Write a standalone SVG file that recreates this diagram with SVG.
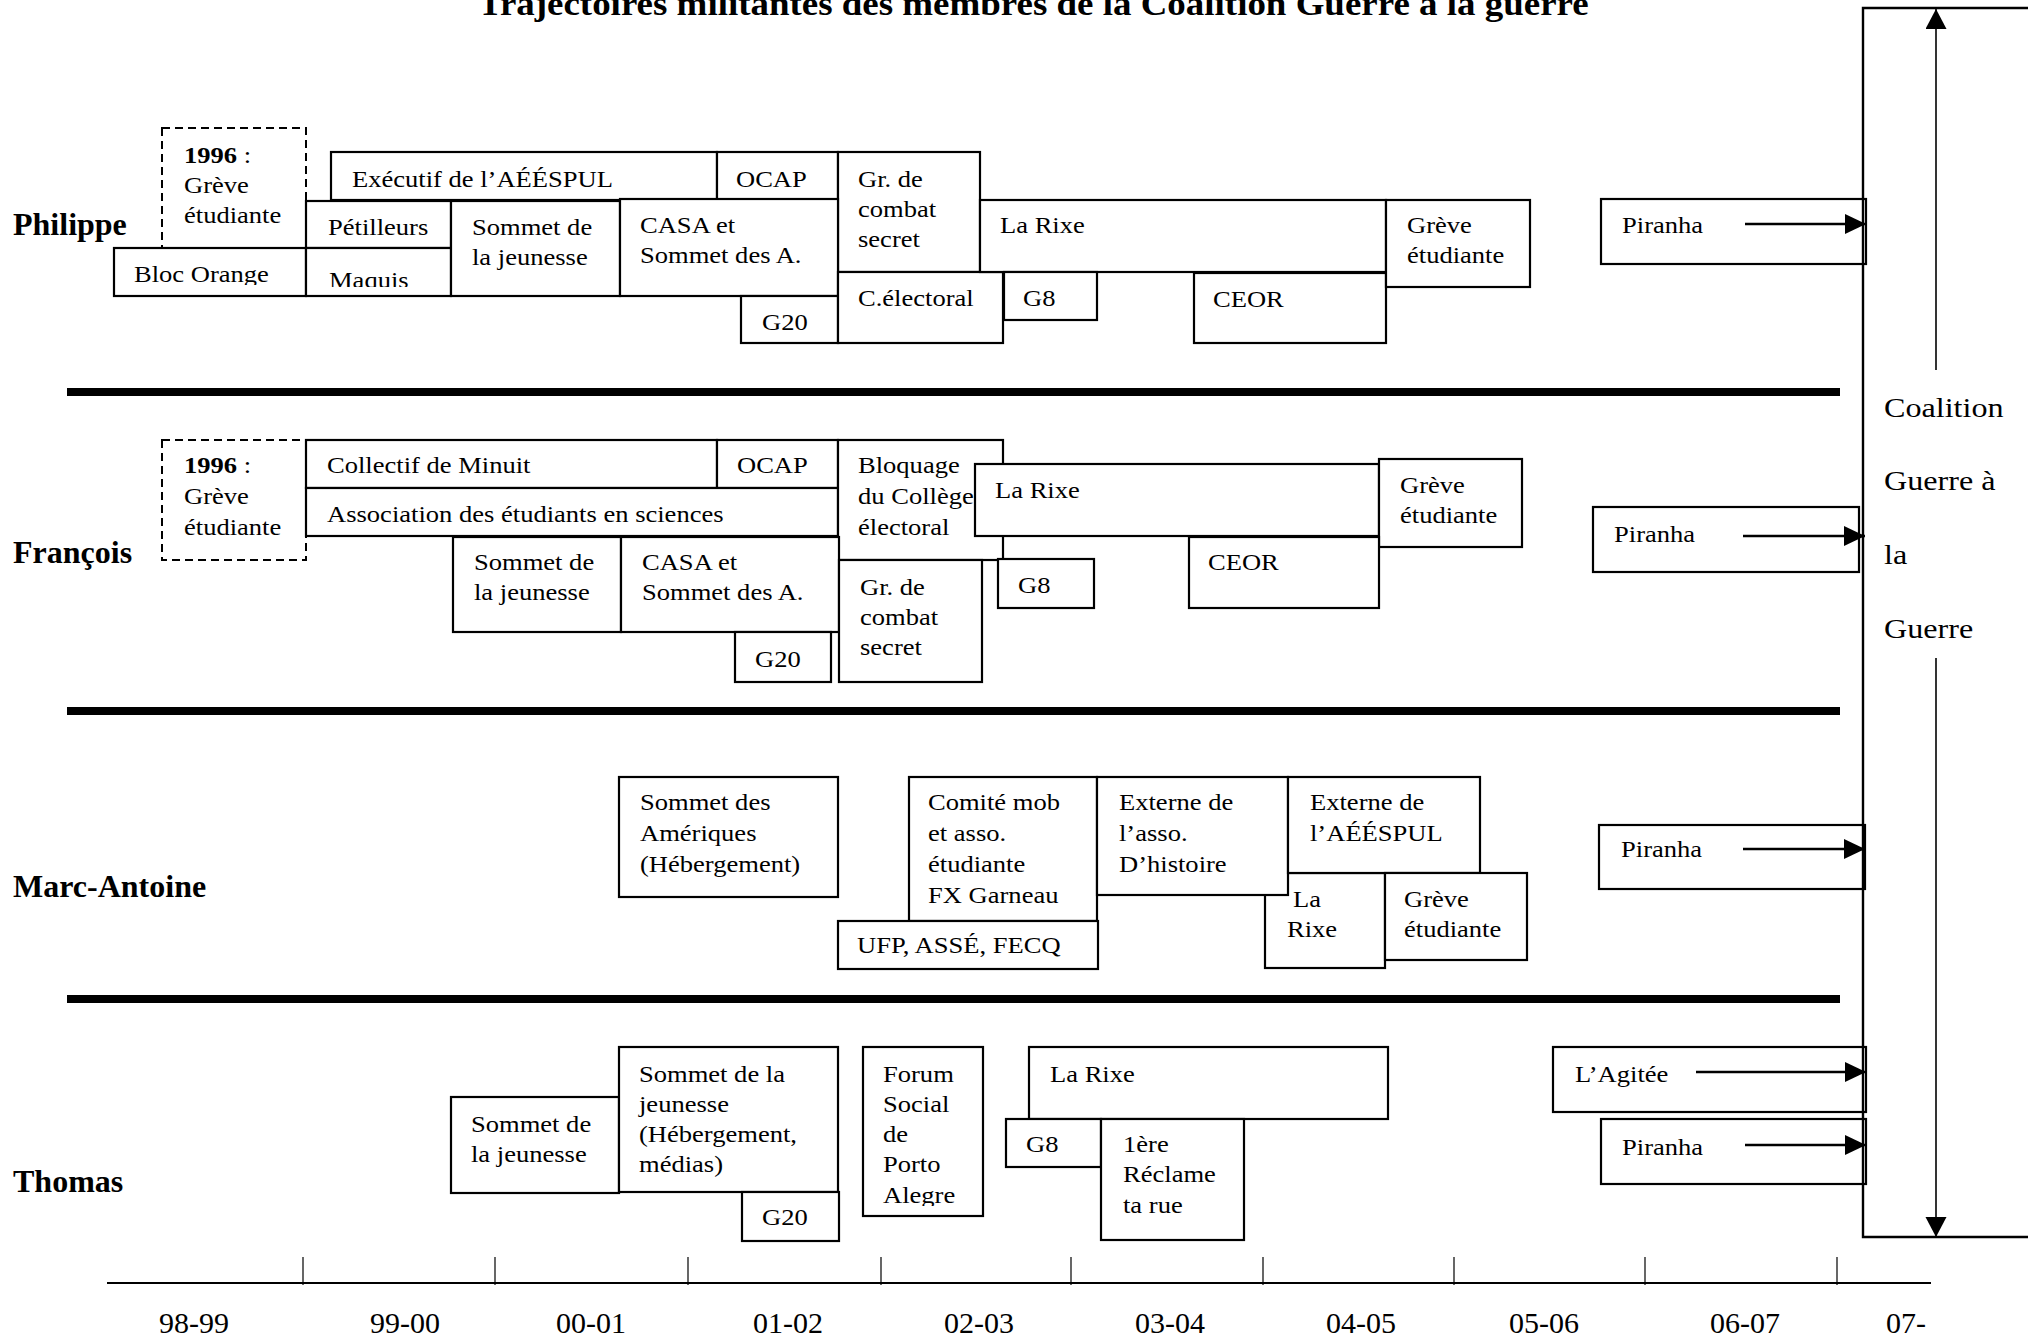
<svg xmlns="http://www.w3.org/2000/svg" width="2028" height="1338" viewBox="0 0 2028 1338">
<style>
.b{fill:#fff;stroke:#000;stroke-width:2.2}
.d{fill:#fff;stroke:#000;stroke-width:2;stroke-dasharray:8 5}
.t{font-family:"Liberation Serif","Times New Roman",serif;font-size:23.5px;fill:#000}
.n{font-family:"Liberation Serif","Times New Roman",serif;font-size:32px;font-weight:bold;fill:#000}
.yr{font-family:"Liberation Serif","Times New Roman",serif;font-size:30px;fill:#000;text-anchor:middle}
.sep{stroke:#000;stroke-width:8}
.ar{stroke:#000;stroke-width:2.5;fill:none}
.va{stroke:#000;stroke-width:1.6;fill:none}
</style>
<defs>
<marker id="ah" markerUnits="userSpaceOnUse" markerWidth="22" markerHeight="20" refX="21" refY="10" orient="auto"><path d="M0,0 L21,10 L0,20 Z" fill="#000"/></marker>
<marker id="av" markerUnits="userSpaceOnUse" markerWidth="21" markerHeight="22" refX="20" refY="10.5" orient="auto"><path d="M0,0 L20,10.5 L0,21 Z" fill="#000"/></marker>
<clipPath id="cBO"><rect x="100" y="240" width="210" height="45"/></clipPath>
<clipPath id="cMQ"><rect x="306" y="240" width="145" height="47"/></clipPath>
<clipPath id="cAL"><rect x="860" y="1040" width="125" height="166"/></clipPath>
</defs>
<rect width="2028" height="1338" fill="#fff"/>

<text class="n" transform="translate(478,15) scale(1.12,1)" style="font-size:33px">Trajectoires militantes des membres de la Coalition Guerre à la guerre</text>

<g id="names">
<text class="n" x="13" y="235">Philippe</text>
<text class="n" x="13" y="563">François</text>
<text class="n" x="13" y="897">Marc-Antoine</text>
<text class="n" x="13" y="1192">Thomas</text>
</g>

<g id="separators">
<line class="sep" x1="67" y1="392" x2="1840" y2="392"/>
<line class="sep" x1="67" y1="711" x2="1840" y2="711"/>
<line class="sep" x1="67" y1="999" x2="1840" y2="999"/>
</g>

<!-- Philippe -->
<g id="p-1996"><rect class="d" x="162" y="128" width="144" height="120"/><text class="t" transform="translate(184,163) scale(1.13,1)"><tspan x="0" y="0" font-weight="bold">1996</tspan><tspan> :</tspan><tspan x="0" y="30">Grève</tspan><tspan x="0" y="60">étudiante</tspan></text></g>
<g id="p-executif"><rect class="b" x="331" y="152" width="386" height="48"/><text class="t" transform="translate(352,187) scale(1.13,1)">Exécutif de l’AÉÉSPUL</text></g>
<g id="p-ocap"><rect class="b" x="717" y="152" width="121" height="48"/><text class="t" transform="translate(736,187) scale(1.13,1)">OCAP</text></g>
<g id="p-grcombat"><rect class="b" x="838" y="152" width="142" height="120"/><text class="t" transform="translate(858,187) scale(1.13,1)"><tspan x="0" y="0">Gr. de</tspan><tspan x="0" y="30">combat</tspan><tspan x="0" y="60">secret</tspan></text></g>
<g id="p-petilleurs"><rect class="b" x="306" y="201" width="145" height="47"/><text class="t" transform="translate(328,235) scale(1.13,1)">Pétilleurs</text></g>
<g id="p-blocorange"><rect class="b" x="114" y="248" width="192" height="48"/><g clip-path="url(#cBO)"><text class="t" transform="translate(134,282) scale(1.13,1)">Bloc Orange</text></g></g>
<g id="p-maquis"><rect class="b" x="306" y="248" width="145" height="48"/><g clip-path="url(#cMQ)"><text class="t" transform="translate(329,288) scale(1.13,1)">Maquis</text></g></g>
<g id="p-sommetjeunesse"><rect class="b" x="451" y="201" width="169" height="95"/><text class="t" transform="translate(472,235) scale(1.13,1)"><tspan x="0" y="0">Sommet de</tspan><tspan x="0" y="30">la jeunesse</tspan></text></g>
<g id="p-casa"><rect class="b" x="620" y="199" width="218" height="97"/><text class="t" transform="translate(640,233) scale(1.13,1)"><tspan x="0" y="0">CASA et</tspan><tspan x="0" y="30">Sommet des A.</tspan></text></g>
<g id="p-g20"><rect class="b" x="741" y="296" width="97" height="47"/><text class="t" transform="translate(762,330) scale(1.13,1)">G20</text></g>
<g id="p-celectoral"><rect class="b" x="838" y="272" width="165" height="71"/><text class="t" transform="translate(858,306) scale(1.13,1)">C.électoral</text></g>
<g id="p-larixe"><rect class="b" x="980" y="200" width="406" height="72"/><text class="t" transform="translate(1000,233) scale(1.13,1)">La Rixe</text></g>
<g id="p-g8"><rect class="b" x="1004" y="272" width="93" height="48"/><text class="t" transform="translate(1023,306) scale(1.13,1)">G8</text></g>
<g id="p-ceor"><rect class="b" x="1194" y="273" width="192" height="70"/><text class="t" transform="translate(1213,307) scale(1.13,1)">CEOR</text></g>
<g id="p-greve"><rect class="b" x="1386" y="200" width="144" height="87"/><text class="t" transform="translate(1407,233) scale(1.13,1)"><tspan x="0" y="0">Grève</tspan><tspan x="0" y="30">étudiante</tspan></text></g>
<g id="p-piranha"><rect class="b" x="1601" y="199" width="265" height="65"/><text class="t" transform="translate(1622,233) scale(1.13,1)">Piranha</text></g>

<!-- François -->
<g id="f-1996"><rect class="d" x="162" y="440" width="144" height="120"/><text class="t" transform="translate(184,473) scale(1.13,1)"><tspan x="0" y="0" font-weight="bold">1996</tspan><tspan> :</tspan><tspan x="0" y="31">Grève</tspan><tspan x="0" y="62">étudiante</tspan></text></g>
<g id="f-collectif"><rect class="b" x="306" y="440" width="411" height="48"/><text class="t" transform="translate(327,473) scale(1.13,1)">Collectif de Minuit</text></g>
<g id="f-ocap"><rect class="b" x="717" y="440" width="121" height="48"/><text class="t" transform="translate(737,473) scale(1.13,1)">OCAP</text></g>
<g id="f-association"><rect class="b" x="306" y="488" width="532" height="48"/><text class="t" transform="translate(327,522) scale(1.13,1)">Association des étudiants en sciences</text></g>
<g id="f-bloquage"><rect class="b" x="838" y="440" width="165" height="120"/><text class="t" transform="translate(858,473) scale(1.13,1)"><tspan x="0" y="0">Bloquage</tspan><tspan x="0" y="31">du Collège</tspan><tspan x="0" y="62">électoral</tspan></text></g>
<g id="f-larixe"><rect class="b" x="975" y="464" width="404" height="72"/><text class="t" transform="translate(995,498) scale(1.13,1)">La Rixe</text></g>
<g id="f-greve"><rect class="b" x="1379" y="459" width="143" height="88"/><text class="t" transform="translate(1400,493) scale(1.13,1)"><tspan x="0" y="0">Grève</tspan><tspan x="0" y="30">étudiante</tspan></text></g>
<g id="f-ceor"><rect class="b" x="1189" y="537" width="190" height="71"/><text class="t" transform="translate(1208,570) scale(1.13,1)">CEOR</text></g>
<g id="f-g8"><rect class="b" x="998" y="559" width="96" height="49"/><text class="t" transform="translate(1018,593) scale(1.13,1)">G8</text></g>
<g id="f-sommetjeunesse"><rect class="b" x="453" y="537" width="168" height="95"/><text class="t" transform="translate(474,570) scale(1.13,1)"><tspan x="0" y="0">Sommet de</tspan><tspan x="0" y="30">la jeunesse</tspan></text></g>
<g id="f-casa"><rect class="b" x="621" y="537" width="218" height="95"/><text class="t" transform="translate(642,570) scale(1.13,1)"><tspan x="0" y="0">CASA et</tspan><tspan x="0" y="30">Sommet des A.</tspan></text></g>
<g id="f-g20"><rect class="b" x="735" y="632" width="96" height="50"/><text class="t" transform="translate(755,667) scale(1.13,1)">G20</text></g>
<g id="f-grcombat"><rect class="b" x="839" y="560" width="143" height="122"/><text class="t" transform="translate(860,595) scale(1.13,1)"><tspan x="0" y="0">Gr. de</tspan><tspan x="0" y="30">combat</tspan><tspan x="0" y="60">secret</tspan></text></g>
<g id="f-piranha"><rect class="b" x="1593" y="507" width="266" height="65"/><text class="t" transform="translate(1614,542) scale(1.13,1)">Piranha</text></g>

<!-- Marc-Antoine -->
<g id="m-sommetameriques"><rect class="b" x="619" y="777" width="219" height="120"/><text class="t" transform="translate(640,810) scale(1.13,1)"><tspan x="0" y="0">Sommet des</tspan><tspan x="0" y="31">Amériques</tspan><tspan x="0" y="62">(Hébergement)</tspan></text></g>
<g id="m-comitemob"><rect class="b" x="909" y="777" width="188" height="144"/><text class="t" transform="translate(928,810) scale(1.13,1)"><tspan x="0" y="0">Comité mob</tspan><tspan x="0" y="31">et asso.</tspan><tspan x="0" y="62">étudiante</tspan><tspan x="0" y="93">FX Garneau</tspan></text></g>
<g id="m-ufp"><rect class="b" x="838" y="921" width="260" height="48"/><text class="t" transform="translate(857,953) scale(1.13,1)">UFP, ASSÉ, FECQ</text></g>
<g id="m-larixe"><rect class="b" x="1265" y="873" width="120" height="95"/><text class="t" transform="translate(1293,907) scale(1.13,1)">La</text><text class="t" transform="translate(1287,937) scale(1.13,1)">Rixe</text></g>
<g id="m-externehist"><rect class="b" x="1097" y="777" width="191" height="118"/><text class="t" transform="translate(1119,810) scale(1.13,1)"><tspan x="0" y="0">Externe de</tspan><tspan x="0" y="31">l’asso.</tspan><tspan x="0" y="62">D’histoire</tspan></text></g>
<g id="m-externeaeespul"><rect class="b" x="1288" y="777" width="192" height="96"/><text class="t" transform="translate(1310,810) scale(1.13,1)"><tspan x="0" y="0">Externe de</tspan><tspan x="0" y="31">l’AÉÉSPUL</tspan></text></g>
<g id="m-greve"><rect class="b" x="1385" y="873" width="142" height="87"/><text class="t" transform="translate(1404,907) scale(1.13,1)"><tspan x="0" y="0">Grève</tspan><tspan x="0" y="30">étudiante</tspan></text></g>
<g id="m-piranha"><rect class="b" x="1599" y="825" width="266" height="64"/><text class="t" transform="translate(1621,857) scale(1.13,1)">Piranha</text></g>

<!-- Thomas -->
<g id="t-sommetjeunesse"><rect class="b" x="451" y="1097" width="168" height="96"/><text class="t" transform="translate(471,1132) scale(1.13,1)"><tspan x="0" y="0">Sommet de</tspan><tspan x="0" y="30">la jeunesse</tspan></text></g>
<g id="t-sommetheb"><rect class="b" x="619" y="1047" width="219" height="145"/><text class="t" transform="translate(639,1082) scale(1.13,1)"><tspan x="0" y="0">Sommet de la</tspan><tspan x="0" y="30">jeunesse</tspan><tspan x="0" y="60">(Hébergement,</tspan><tspan x="0" y="90">médias)</tspan></text></g>
<g id="t-g20"><rect class="b" x="742" y="1192" width="97" height="49"/><text class="t" transform="translate(762,1225) scale(1.13,1)">G20</text></g>
<g id="t-forum"><rect class="b" x="863" y="1047" width="120" height="169"/><g clip-path="url(#cAL)"><text class="t" transform="translate(883,1082) scale(1.13,1)"><tspan x="0" y="0">Forum</tspan><tspan x="0" y="30">Social</tspan><tspan x="0" y="60">de</tspan><tspan x="0" y="90">Porto</tspan><tspan x="0" y="121">Alegre</tspan></text></g></g>
<g id="t-larixe"><rect class="b" x="1029" y="1047" width="359" height="72"/><text class="t" transform="translate(1050,1082) scale(1.13,1)">La Rixe</text></g>
<g id="t-g8"><rect class="b" x="1006" y="1119" width="95" height="48"/><text class="t" transform="translate(1026,1152) scale(1.13,1)">G8</text></g>
<g id="t-reclame"><rect class="b" x="1101" y="1119" width="143" height="121"/><text class="t" transform="translate(1123,1152) scale(1.13,1)"><tspan x="0" y="0">1ère</tspan><tspan x="0" y="30">Réclame</tspan><tspan x="0" y="61">ta rue</tspan></text></g>
<g id="t-agitee"><rect class="b" x="1553" y="1047" width="313" height="65"/><text class="t" transform="translate(1575,1082) scale(1.13,1)">L’Agitée</text></g>
<g id="t-piranha"><rect class="b" x="1601" y="1119" width="265" height="65"/><text class="t" transform="translate(1622,1155) scale(1.13,1)">Piranha</text></g>

<!-- Coalition -->
<g id="coalition">
<path d="M2030,8 H1863 V1237 H2030" fill="none" stroke="#000" stroke-width="2.4"/>
<text class="t" transform="translate(1884,417) scale(1.19,1)" style="font-size:27px"><tspan x="0" y="0">Coalition</tspan><tspan x="0" y="73">Guerre à</tspan><tspan x="0" y="147">la</tspan><tspan x="0" y="221">Guerre</tspan></text>
</g>

<g id="connectors">
<line class="ar" x1="1745" y1="224" x2="1866" y2="224" marker-end="url(#ah)"/>
<line class="ar" x1="1743" y1="536" x2="1865" y2="536" marker-end="url(#ah)"/>
<line class="ar" x1="1743" y1="849" x2="1865" y2="849" marker-end="url(#ah)"/>
<line class="ar" x1="1696" y1="1072" x2="1866" y2="1072" marker-end="url(#ah)"/>
<line class="ar" x1="1745" y1="1145" x2="1866" y2="1145" marker-end="url(#ah)"/>
<line class="va" x1="1936" y1="370" x2="1936" y2="9" marker-end="url(#av)"/>
<line class="va" x1="1936" y1="658" x2="1936" y2="1237" marker-end="url(#av)"/>
</g>

<g id="timeline">
<line x1="107" y1="1283" x2="1931" y2="1283" stroke="#000" stroke-width="2"/>
<g stroke="#000" stroke-width="1.2">
<line x1="303" y1="1257" x2="303" y2="1285"/>
<line x1="495" y1="1257" x2="495" y2="1285"/>
<line x1="688" y1="1257" x2="688" y2="1285"/>
<line x1="881" y1="1257" x2="881" y2="1285"/>
<line x1="1071" y1="1257" x2="1071" y2="1285"/>
<line x1="1263" y1="1257" x2="1263" y2="1285"/>
<line x1="1454" y1="1257" x2="1454" y2="1285"/>
<line x1="1645" y1="1257" x2="1645" y2="1285"/>
<line x1="1837" y1="1257" x2="1837" y2="1285"/>
</g>
<text class="yr" x="194" y="1333">98-99</text>
<text class="yr" x="405" y="1333">99-00</text>
<text class="yr" x="591" y="1333">00-01</text>
<text class="yr" x="788" y="1333">01-02</text>
<text class="yr" x="979" y="1333">02-03</text>
<text class="yr" x="1170" y="1333">03-04</text>
<text class="yr" x="1361" y="1333">04-05</text>
<text class="yr" x="1544" y="1333">05-06</text>
<text class="yr" x="1745" y="1333">06-07</text>
<text class="yr" x="1906" y="1333">07-</text>
</g>
</svg>
